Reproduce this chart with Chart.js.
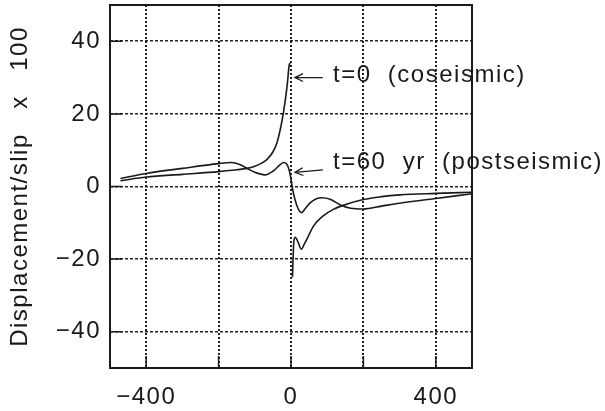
<!DOCTYPE html>
<html>
<head>
<meta charset="utf-8">
<script src="https://cdn.jsdelivr.net/npm/chart.js@4"></script>
<style>
  html, body { margin: 0; padding: 0; background: #fff; }
  #wrap { width: 605px; height: 411px; }
</style>
</head>
<body>
<div id="wrap"><canvas id="dispChart" width="605" height="411"></canvas></div>
<script>
// distance from fault (x) and displacement/slip x 100 (y)
var coDistance = [-471, -400, -300, -200, -150, -122, -100, -80, -67, -50, -39, -26, -17, -10, -5, -2,
    0,
    4, 8, 12, 18, 29, 36, 45, 62, 89, 117, 144, 200, 250, 300, 400, 500];
var coseismic = [1.6, 2.6, 3.35, 4.1, 4.6, 5.0, 5.6, 6.5, 7.4, 9.5, 12, 17.5, 22.9, 28.4, 33.4, 34,
    null,
    -25, -15, -14, -15, -17.3, -16, -14.3, -10.9, -8.1, -6.3, -5.2, -3.6, -2.8, -2.3, -1.9, -1.6];

var postDistance = [-471, -400, -300, -200, -165, -140, -122, -100, -72, -50, -30, -21, -12, -5, 0,
    5, 11, 20, 29, 40, 52, 70, 85, 108, 135, 165, 200, 250, 300, 400, 500];
var postseismic = [2.2, 3.6, 5.0, 6.3, 6.6, 6.0, 5.0, 3.9, 3.2, 4.2, 6.0, 6.6, 6.2, 4.5, 2.0,
    -1, -3.6, -6.2, -7.2, -6.0, -4.6, -3.4, -3.1, -3.5, -5.0, -6.0, -6.2, -5.4, -4.6, -3.3, -2.0];

var xTicks = [-400, -200, 0, 200, 400];
var xLabelled = [-400, 0, 400];
var yTicks = [-40, -20, 0, 20, 40];

var curveLabels = ['t=0  (coseismic)', 't=60  yr  (postseismic)'];

function toPoints(xs, ys) {
    return xs.map(function (x, i) { return { x: x, y: ys[i] }; });
}

function minusSign(v) {
    return v < 0 ? '\u2212' + Math.abs(v) : String(v);
}

var FONT = '"Liberation Sans", Arial, sans-serif';
var INK = '#1a1a1a';

// the original lettering is widely spaced
var spacingPlugin = {
    id: 'spacing',
    beforeDraw: function (chart) {
        chart.ctx.letterSpacing = '1.5px';
    }
};

// frame, inward tick marks and the two arrow labels
var framePlugin = {
    id: 'frame',
    afterDatasetsDraw: function (chart) {
        var ctx = chart.ctx, a = chart.chartArea;
        var xs = chart.scales.x, ys = chart.scales.y;
        ctx.save();
        ctx.strokeStyle = INK;
        ctx.lineWidth = 2;
        ctx.strokeRect(a.left, a.top, a.right - a.left, a.bottom - a.top);

        ctx.lineWidth = 1.5;
        ctx.beginPath();
        yTicks.forEach(function (v) {
            var py = ys.getPixelForValue(v);
            ctx.moveTo(a.left, py);
            ctx.lineTo(a.left + 12, py);
        });
        xTicks.forEach(function (v) {
            var px = xs.getPixelForValue(v);
            ctx.moveTo(px, a.bottom);
            ctx.lineTo(px, a.bottom - 12);
        });
        ctx.stroke();

        // arrows pointing at each curve
        var arrows = [
            { head: [11, 30], tail: [88, 30], text: curveLabels[0], tx: 333, ty: 82 },
            { head: [11, 3.9], tail: [88, 4.6], text: curveLabels[1], tx: 333, ty: 169 }
        ];
        ctx.lineWidth = 1.3;
        arrows.forEach(function (ar) {
            var hx = xs.getPixelForValue(ar.head[0]), hy = ys.getPixelForValue(ar.head[1]);
            var tx = xs.getPixelForValue(ar.tail[0]), ty = ys.getPixelForValue(ar.tail[1]);
            var ang = Math.atan2(ty - hy, tx - hx);
            ctx.beginPath();
            ctx.moveTo(tx, ty);
            ctx.lineTo(hx, hy);
            ctx.moveTo(hx + 9 * Math.cos(ang - 0.45), hy + 9 * Math.sin(ang - 0.45));
            ctx.lineTo(hx, hy);
            ctx.lineTo(hx + 9 * Math.cos(ang + 0.45), hy + 9 * Math.sin(ang + 0.45));
            ctx.stroke();
            ctx.fillStyle = INK;
            ctx.font = '24px ' + FONT;
            ctx.textAlign = 'left';
            ctx.textBaseline = 'alphabetic';
            ctx.fillText(ar.text, ar.tx, ar.ty);
        });
        ctx.restore();
    }
};

var ctx = document.getElementById('dispChart').getContext('2d');

var myChart = new Chart(ctx, {
    type: 'line',
    data: {
        datasets: [{
            label: curveLabels[0],
            data: toPoints(coDistance, coseismic),
            borderColor: INK,
            borderWidth: 1.6,
            pointRadius: 0,
            cubicInterpolationMode: 'monotone',
            spanGaps: false
        }, {
            label: curveLabels[1],
            data: toPoints(postDistance, postseismic),
            borderColor: INK,
            borderWidth: 1.6,
            pointRadius: 0,
            cubicInterpolationMode: 'monotone'
        }]
    },
    options: {
        responsive: false,
        animation: false,
        layout: { padding: { top: 5, right: 133, left: 0, bottom: 0 } },
        plugins: {
            legend: { display: false },
            tooltip: { enabled: false }
        },
        scales: {
            x: {
                type: 'linear',
                min: -500,
                max: 500,
                afterBuildTicks: function (scale) {
                    scale.ticks = xTicks.map(function (v) { return { value: v }; });
                },
                afterFit: function (scale) {
                    scale.height = 43;
                    scale.paddingLeft = 0;
                    scale.paddingRight = 0;
                },
                ticks: {
                    autoSkip: false,
                    maxRotation: 0,
                    padding: 15,
                    color: INK,
                    font: { family: FONT, size: 24 },
                    callback: function (v) {
                        return xLabelled.indexOf(v) >= 0 ? minusSign(v) : '';
                    }
                },
                grid: {
                    color: '#222',
                    lineWidth: 2,
                    drawTicks: false
                },
                border: { display: false, dash: [2, 2] }
            },
            y: {
                min: -50,
                max: 50,
                afterBuildTicks: function (scale) {
                    scale.ticks = yTicks.map(function (v) { return { value: v }; });
                },
                afterFit: function (scale) {
                    scale.width = 110;
                    scale.paddingTop = 0;
                    scale.paddingBottom = 0;
                },
                ticks: {
                    padding: 9,
                    color: INK,
                    font: { family: FONT, size: 24 },
                    callback: function (v) { return minusSign(v); }
                },
                grid: {
                    color: '#222',
                    lineWidth: 1.6,
                    drawTicks: false
                },
                border: { display: false, dash: [3, 2] },
                title: {
                    display: true,
                    text: 'Displacement/slip   x   100',
                    color: INK,
                    font: { family: FONT, size: 24 },
                    padding: { top: 6, bottom: 0 }
                }
            }
        }
    },
    plugins: [spacingPlugin, framePlugin]
});
</script>
</body>
</html>
